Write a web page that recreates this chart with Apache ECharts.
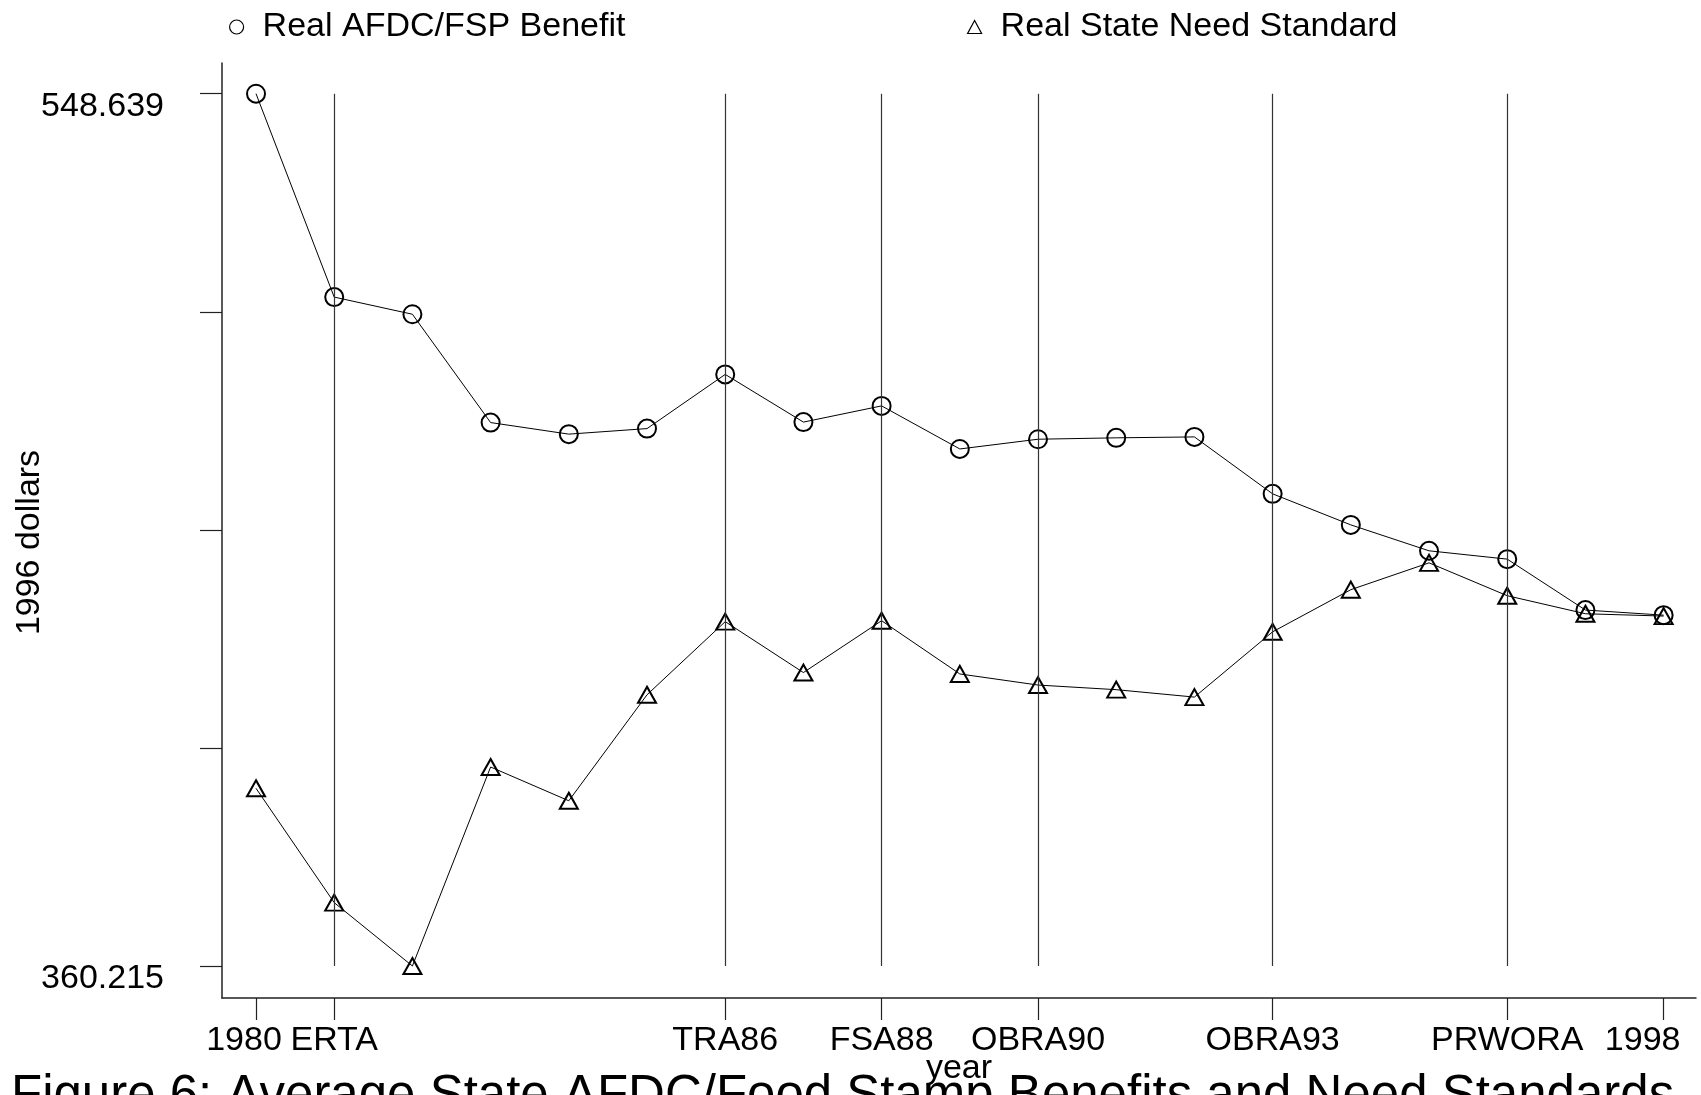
<!DOCTYPE html>
<html>
<head>
<meta charset="utf-8">
<script src="https://cdn.jsdelivr.net/npm/echarts@6/dist/echarts.min.js"></script>
<style>
  html, body {margin: 0; padding: 0; background: #fff;}
  #chart {width: 1701px; height: 1095px;}
</style>
</head>
<body>
<div id="chart"></div>
<script>
// values (1996 dollars)
var years = [1980, 1981, 1982, 1983, 1984, 1985, 1986, 1987, 1988, 1989,
             1990, 1991, 1992, 1993, 1994, 1995, 1996, 1997, 1998];
var benefit = [548.639, 504.7, 501.0, 477.6, 475.1, 476.3, 488.0, 477.7, 481.2, 471.9,
               474.0, 474.3, 474.5, 462.2, 455.5, 449.9, 448.1, 437.1, 436.0];
var needStd = [398.6, 373.9, 360.215, 403.2, 395.9, 418.8, 434.6, 423.6, 434.8, 423.3,
               420.9, 419.9, 418.3, 432.4, 441.5, 447.3, 440.2, 436.3, 435.8];

// policy events marked with vertical lines
var eventYears = [1981, 1986, 1988, 1990, 1993, 1996];
var xTickYears = [1980, 1981, 1986, 1988, 1990, 1993, 1996, 1998];
var xTickLabels = ['1980', 'ERTA', 'TRA86', 'FSA88', 'OBRA90', 'OBRA93', 'PRWORA', '1998'];
var yTicks = [360.215, 407.321, 454.427, 501.533, 548.639];
var yLabelTicks = [360.215, 548.639];

var FONT = 'Liberation Sans';
var chart = echarts.init(document.getElementById('chart'));

function pairs(ys) {
  return years.map(function (y, i) { return [y, ys[i]]; });
}

var eventLines = eventYears.map(function (yr) {
  return [{coord: [yr, yTicks[yTicks.length - 1]]}, {coord: [yr, yTicks[0]]}];
});

// labels are split over two axes so that echarts does not drop
// touching neighbours like "1980" and "ERTA"
var labelsEven = xTickYears.filter(function (_, i) { return i % 2 === 0; });
var labelsOdd = xTickYears.filter(function (_, i) { return i % 2 === 1; });
var xMin = 1979.565, xMax = 1998.414;

function xLabel(v) {
  var i = xTickYears.indexOf(Math.round(v));
  if (i < 0) return '';
  if (i === 0) return '{a|' + xTickLabels[i] + '}';
  if (i === xTickYears.length - 1) return '{r|' + xTickLabels[i] + '}';
  return xTickLabels[i];
}

function labelAxis(values, withLine) {
  return {
    type: 'value',
    min: xMin,
    max: xMax,
    position: 'bottom',
    axisLine: {show: withLine, onZero: false, lineStyle: {color: '#222', width: 1.5}},
    axisTick: {show: withLine, customValues: xTickYears, length: 22, lineStyle: {color: '#222', width: 1.2}},
    axisLabel: {
      customValues: values,
      showMinLabel: true,
      showMaxLabel: true,
      hideOverlap: false,
      margin: 26,
      fontFamily: FONT, fontSize: 34, color: '#000',
      formatter: xLabel,
      rich: {
        a: {fontFamily: FONT, fontSize: 34, color: '#000', padding: [0, 24, 0, 0]},
        r: {fontFamily: FONT, fontSize: 34, color: '#000', padding: [0, 42, 0, 0]}
      }
    },
    splitLine: {show: false}
  };
}

var xMain = labelAxis(labelsEven, true);
xMain.name = 'year';
xMain.nameLocation = 'middle';
xMain.nameGap = 54;
xMain.nameMoveOverlap = false;
xMain.nameTextStyle = {fontFamily: FONT, fontSize: 34, color: '#000'};

chart.setOption({
  animation: false,
  backgroundColor: '#fff',
  textStyle: {fontFamily: FONT, color: '#000'},
  title: {
    text: 'Figure 6: Average State AFDC/Food Stamp Benefits and Need Standards',
    left: 6,
    top: 1066,
    textStyle: {fontFamily: FONT, fontSize: 51, fontWeight: 'normal', color: '#000'}
  },
  legend: [{
    data: ['Real AFDC/FSP Benefit'],
    left: 224, top: 5,
    icon: 'circle',
    itemWidth: 14, itemHeight: 14,
    itemStyle: {borderWidth: 1.2},
    textStyle: {fontFamily: FONT, fontSize: 34, color: '#000', padding: [0, 0, 0, 14]}
  }, {
    data: ['Real State Need Standard'],
    left: 962, top: 5,
    icon: 'triangle',
    itemWidth: 14, itemHeight: 13,
    itemStyle: {borderWidth: 1.2},
    textStyle: {fontFamily: FONT, fontSize: 34, color: '#000', padding: [0, 0, 0, 14]}
  }],
  grid: {left: 222, right: 5, top: 63, bottom: 97, outerBoundsMode: 'none', containLabel: false},
  xAxis: [xMain, labelAxis(labelsOdd, false)],
  yAxis: {
    type: 'value',
    min: 353.30,
    max: 555.27,
    name: '1996 dollars',
    nameLocation: 'middle',
    nameGap: 175,
    nameMoveOverlap: false,
    nameTextStyle: {fontFamily: FONT, fontSize: 34, color: '#000', padding: [0, 24, 0, 0]},
    axisLine: {show: true, onZero: false, lineStyle: {color: '#222', width: 1.5}},
    axisTick: {show: true, customValues: yTicks, length: 22, lineStyle: {color: '#222', width: 1.2}},
    axisLabel: {
      customValues: yLabelTicks,
      showMinLabel: true,
      showMaxLabel: true,
      margin: 58,
      fontFamily: FONT, fontSize: 34, color: '#000',
      verticalAlign: 'top',
      lineHeight: 26,
      formatter: function (v) { return v.toFixed(3); }
    },
    splitLine: {show: false}
  },
  series: [{
    name: 'Real AFDC/FSP Benefit',
    type: 'line',
    data: pairs(benefit),
    symbol: 'circle',
    symbolSize: 18,
    itemStyle: {color: 'rgba(0,0,0,0)', borderColor: '#000', borderWidth: 2},
    lineStyle: {color: '#000', width: 1},
    markLine: {
      silent: true,
      symbol: ['none', 'none'],
      label: {show: false},
      lineStyle: {color: '#333', width: 1.2, type: 'solid'},
      data: eventLines
    },
    z: 3
  }, {
    name: 'Real State Need Standard',
    type: 'line',
    data: pairs(needStd),
    symbol: 'triangle',
    symbolSize: [18, 16],
    itemStyle: {color: 'rgba(0,0,0,0)', borderColor: '#000', borderWidth: 2},
    lineStyle: {color: '#000', width: 1},
    z: 3
  }]
});
</script>
</body>
</html>
